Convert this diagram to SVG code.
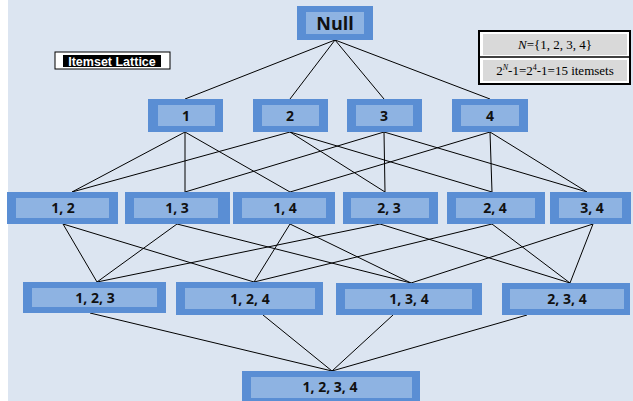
<svg xmlns="http://www.w3.org/2000/svg" width="633" height="401" viewBox="0 0 633 401">
<style>
.o{fill:#5a8ed4}
.i{fill:#8eb3e2}
.t{font-family:"Open Sans","Liberation Sans",sans-serif;font-weight:bold;font-size:14px;fill:#111;text-anchor:middle}
.c line{stroke:#000;stroke-width:1}
.tm{font-family:"Liberation Serif",serif;font-size:13px;fill:#000;text-anchor:middle}
</style>
<rect x="0" y="0" width="633" height="401" fill="#fff"/>
<rect x="8" y="0" width="625" height="401" fill="#dce5f1"/>
<g id="connectors" class="c">
<line x1="335" y1="40" x2="185" y2="99"/><line x1="335" y1="40" x2="290" y2="99"/><line x1="335" y1="40" x2="384" y2="99"/><line x1="335" y1="40" x2="490" y2="99"/>
<line x1="185" y1="132" x2="72" y2="192"/><line x1="185" y1="132" x2="185" y2="192"/><line x1="185" y1="132" x2="290" y2="192"/>
<line x1="290" y1="132" x2="72" y2="192"/><line x1="290" y1="132" x2="385" y2="192"/><line x1="290" y1="132" x2="492" y2="192"/>
<line x1="384" y1="132" x2="185" y2="192"/><line x1="384" y1="132" x2="385" y2="192"/><line x1="384" y1="132" x2="587" y2="192"/>
<line x1="490" y1="132" x2="290" y2="192"/><line x1="490" y1="132" x2="492" y2="192"/><line x1="490" y1="132" x2="587" y2="192"/>
<line x1="63" y1="224" x2="97" y2="282"/><line x1="63" y1="224" x2="254" y2="282"/>
<line x1="177" y1="224" x2="97" y2="282"/><line x1="177" y1="224" x2="411" y2="283"/>
<line x1="290" y1="224" x2="254" y2="282"/><line x1="290" y1="224" x2="411" y2="283"/>
<line x1="380" y1="224" x2="97" y2="282"/><line x1="380" y1="224" x2="570" y2="283"/>
<line x1="492" y1="224" x2="254" y2="282"/><line x1="492" y1="224" x2="570" y2="283"/>
<line x1="593" y1="224" x2="411" y2="283"/><line x1="593" y1="224" x2="570" y2="283"/>
<line x1="90" y1="313" x2="332" y2="371"/><line x1="263" y1="315" x2="332" y2="371"/><line x1="393" y1="315" x2="332" y2="371"/><line x1="527" y1="315" x2="332" y2="371"/>
</g>
<g id="null"><rect class="o" x="297" y="6" width="76" height="34"/><rect class="i" x="306" y="12" width="58" height="22"/><text class="t" x="335" y="30" style="font-size:18px">Null</text></g>
<g id="n1"><rect class="o" x="148" y="99" width="75" height="33"/><rect class="i" x="158" y="105" width="57" height="21"/><text class="t" x="186" y="121">1</text></g>
<g id="n2"><rect class="o" x="253" y="99" width="75" height="33"/><rect class="i" x="262" y="105" width="57" height="21"/><text class="t" x="290" y="121">2</text></g>
<g id="n3"><rect class="o" x="347" y="99" width="75" height="33"/><rect class="i" x="356" y="105" width="57" height="21"/><text class="t" x="384" y="121">3</text></g>
<g id="n4"><rect class="o" x="452" y="99" width="76" height="33"/><rect class="i" x="461" y="105" width="58" height="21"/><text class="t" x="490" y="121">4</text></g>
<g id="n12"><rect class="o" x="7" y="192" width="111" height="32"/><rect class="i" x="16" y="198" width="93" height="20"/><text class="t" x="63" y="213">1, 2</text></g>
<g id="n13"><rect class="o" x="125" y="192" width="105" height="32"/><rect class="i" x="134" y="198" width="84" height="20"/><text class="t" x="177" y="213">1, 3</text></g>
<g id="n14"><rect class="o" x="233" y="192" width="102" height="32"/><rect class="i" x="242" y="198" width="84" height="20"/><text class="t" x="285" y="213">1, 4</text></g>
<g id="n23"><rect class="o" x="343" y="192" width="95" height="32"/><rect class="i" x="351" y="198" width="78" height="20"/><text class="t" x="389" y="213">2, 3</text></g>
<g id="n24"><rect class="o" x="447" y="192" width="98" height="32"/><rect class="i" x="456" y="198" width="79" height="20"/><text class="t" x="495" y="213">2, 4</text></g>
<g id="n34"><rect class="o" x="550" y="192" width="81" height="32"/><rect class="i" x="559" y="198" width="63" height="20"/><text class="t" x="592" y="213">3, 4</text></g>
<g id="n123"><rect class="o" x="23" y="282" width="143" height="31"/><rect class="i" x="32" y="288" width="125" height="19"/><text class="t" x="95" y="303">1, 2, 3</text></g>
<g id="n124"><rect class="o" x="176" y="282" width="147" height="33"/><rect class="i" x="185" y="288" width="130" height="21"/><text class="t" x="250" y="304">1, 2, 4</text></g>
<g id="n134"><rect class="o" x="336" y="283" width="146" height="32"/><rect class="i" x="345" y="289" width="127" height="20"/><text class="t" x="409" y="304">1, 3, 4</text></g>
<g id="n234"><rect class="o" x="502" y="283" width="128" height="32"/><rect class="i" x="510" y="289" width="114" height="20"/><text class="t" x="567" y="304">2, 3, 4</text></g>
<g id="n1234"><rect class="o" x="242" y="371" width="178" height="30"/><rect class="i" x="251" y="377" width="161" height="21"/><text class="t" x="330" y="392">1, 2, 3, 4</text></g>
<g id="title"><rect x="55" y="52" width="115" height="17" fill="#fff" stroke="#000" stroke-width="1"/><rect x="63" y="55" width="98" height="12" fill="#000"/><text x="112" y="65.5" style="font-family:'Liberation Sans',Arial,sans-serif;font-weight:bold;font-size:12.5px;fill:#fff;text-anchor:middle">Itemset Lattice</text></g>
<g id="info">
<rect x="479" y="31" width="151" height="53" fill="#fff" stroke="#000" stroke-width="2"/>
<rect x="483" y="34" width="144" height="21" fill="#d9d9d9"/>
<rect x="483" y="60" width="144" height="21" fill="#d9d9d9"/>
<line x1="479" y1="57" x2="630" y2="57" stroke="#000" stroke-width="1.5"/>
<text class="tm" x="555" y="49"><tspan font-style="italic">N</tspan>={1, 2, 3, 4}</text>
<text class="tm" x="555" y="75">2<tspan font-size="8" font-style="italic" dy="-5">N</tspan><tspan dy="5">-1=2</tspan><tspan font-size="8" dy="-5">4</tspan><tspan dy="5">-1=15 itemsets</tspan></text>
</g>
</svg>
